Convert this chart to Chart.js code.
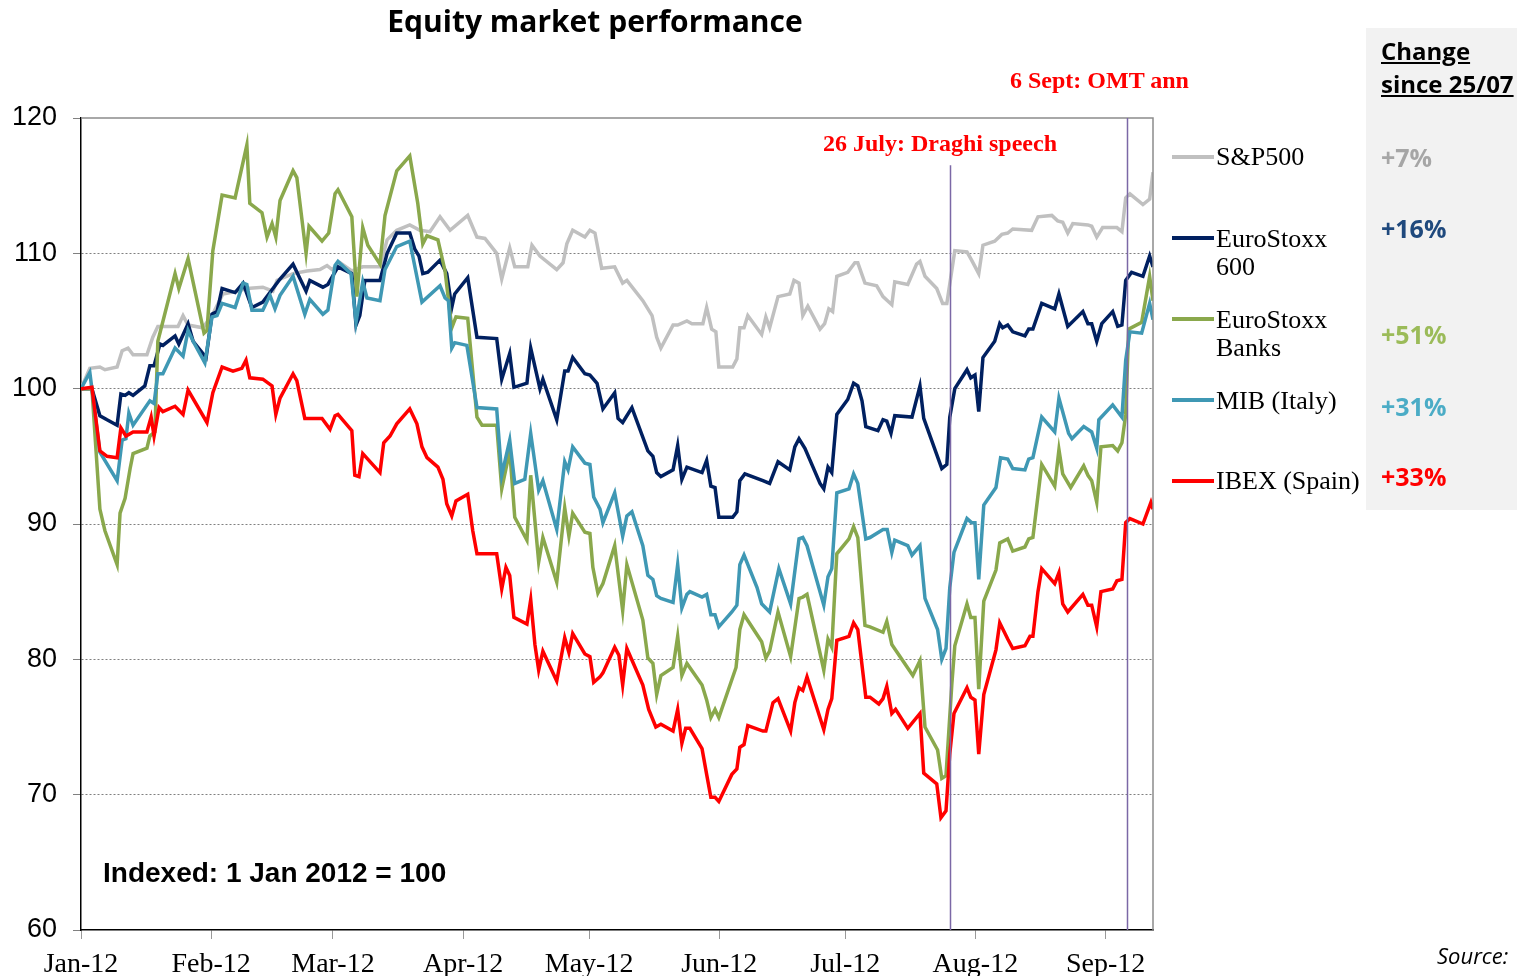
<!DOCTYPE html>
<html>
<head>
<meta charset="utf-8">
<script src="https://cdn.jsdelivr.net/npm/chart.js@4.4.0/dist/chart.umd.min.js"></script>
<style>
  body { margin: 0; background: #fff; overflow: hidden; }
  #wrap { position: relative; width: 1517px; height: 976px; overflow: hidden; }
  #chart { position: absolute; left: 0; top: 0; }
  .t { position: absolute; white-space: nowrap; line-height: 1; }
  .serif { font-family: "Liberation Serif", "Times New Roman", serif; }
  .sans { font-family: "Open Sans", sans-serif; font-weight: bold; }
  .sw { position: absolute; left: 1172px; width: 42px; height: 4px; }
  #box { position: absolute; left: 1366px; top: 28px; width: 151px; height: 482px; background: #f2f2f2; }
</style>
</head>
<body>
<div id="wrap">
  <div id="box"></div>
  <canvas id="chart" width="1517" height="976"></canvas>

  <div class="t sans" style="left:595px;top:6px;font-size:30px;transform:translateX(-50%);">Equity market performance</div>

  <div class="t serif" style="left:1010px;top:68px;font-size:24px;font-weight:bold;color:#ff0000;">6 Sept: OMT ann</div>
  <div class="t serif" style="left:823px;top:131px;font-size:24px;font-weight:bold;color:#ff0000;">26 July: Draghi speech</div>

  <div class="sw" style="top:155px;background:#c0c0c0;"></div>
  <div class="t serif" style="left:1216px;top:144px;font-size:26px;">S&amp;P500</div>
  <div class="sw" style="top:236px;background:#002060;"></div>
  <div class="t serif" style="left:1216px;top:225px;font-size:26px;line-height:28px;">EuroStoxx<br>600</div>
  <div class="sw" style="top:317px;background:#8aa84c;"></div>
  <div class="t serif" style="left:1216px;top:306px;font-size:26px;line-height:28px;">EuroStoxx<br>Banks</div>
  <div class="sw" style="top:398px;background:#3f98b4;"></div>
  <div class="t serif" style="left:1216px;top:388px;font-size:26px;">MIB (Italy)</div>
  <div class="sw" style="top:479px;background:#ff0000;"></div>
  <div class="t serif" style="left:1216px;top:468px;font-size:26px;">IBEX (Spain)</div>

  <div class="t sans" style="left:1381px;top:39px;font-size:24px;text-decoration:underline;">Change</div>
  <div class="t sans" style="left:1381px;top:72px;font-size:24px;text-decoration:underline;">since 25/07</div>
  <div class="t sans" style="left:1381px;top:145px;font-size:25px;color:#a6a6a6;">+7%</div>
  <div class="t sans" style="left:1381px;top:216px;font-size:25px;color:#1f497d;">+16%</div>
  <div class="t sans" style="left:1381px;top:322px;font-size:25px;color:#9bbb59;">+51%</div>
  <div class="t sans" style="left:1381px;top:394px;font-size:25px;color:#4bacc6;">+31%</div>
  <div class="t sans" style="left:1381px;top:464px;font-size:25px;color:#ff0000;">+33%</div>

  <div class="t" style="left:103px;top:859px;font-size:28px;font-family:'Liberation Sans',Arial,sans-serif;font-weight:bold;">Indexed: 1 Jan 2012 = 100</div>
  <div class="t" style="left:1437px;top:944px;font-size:22px;font-family:'Open Sans',sans-serif;font-style:italic;">Source:</div>
</div>

<script>
// x values are days since 1 Jan 2012
var monthStarts = [0, 31, 60, 91, 121, 152, 182, 213, 244];
var monthLabels = ['Jan-12', 'Feb-12', 'Mar-12', 'Apr-12', 'May-12', 'Jun-12', 'Jul-12', 'Aug-12', 'Sep-12'];
var eventDays = [207, 249]; // 26 July Draghi speech, 6 Sept OMT

var spxDays = [0,2.1,4.5,5.7,8.6,9.8,11.2,12.4,15.7,17.1,
  18.3,23.1,24.3,25.5,29,31.2,33.8,37.1,39.5,43.3,
  45.7,46.7,50.5,53.8,56.9,58.6,59.8,61.7,64.5,67.1,
  71.2,72.9,75.2,78.3,80.7,83.1,85.5,87.9,92.1,94.3,
  96.2,99,100.2,102.1,103.3,106.4,107.4,109.3,113.3,114.8,
  115.7,117.1,120,121.2,122.4,124,127.1,129,130,133.8,
  136,137.1,138.1,141,142.1,144.3,145.5,148.1,149,150.2,
  151.2,151.9,155.2,156.2,156.9,157.9,158.8,162.1,163.1,164,
  166,168.8,169.8,171,171.9,173.1,176,177.1,178.1,179,
  180,182.6,184.3,185,186.7,189.5,191,193.1,193.8,196.9,
  199,199.8,201,203.8,205.2,206.2,208.1,211,212.1,213.8,
  214.8,217.6,219.3,220.7,221.9,226.4,227.9,231.2,232.6,233.8,
  235,236.2,239.8,240.7,241.9,243.3,246.7,247.9,248.8,249.8,
  252.9,254.5,255.3];
var spxVals = [100,101.5,101.6,101.4,101.6,102.8,103,102.5,102.5,103.8,
  104.6,104.6,105.4,104.7,104.5,105.4,107,107.2,107.4,107.5,
  107.2,108,108.5,108.7,108.8,109.1,108.8,109.3,108.7,109,
  109,111,111.7,112.1,111.7,111.6,112.7,111.7,112.8,111.2,
  111.1,110,108.1,110.4,109,109,110.6,109.8,108.8,109.3,
  110.7,111.7,111.2,111.7,111.5,108.9,109,107.8,108,106.5,
  105.4,103.8,103,104.7,104.7,105,104.8,104.8,106,104.4,
  104.2,101.6,101.6,102.2,104.5,104.5,105.4,104,105.3,104.5,
  106.8,107,108,107.8,105.4,106.1,104.4,104.8,105.9,105.7,
  108.3,108.6,109.3,109.3,107.8,107.6,106.8,106.2,107.9,107.7,
  109.2,109.4,108.3,107.4,106.3,106.3,110.2,110.1,109.5,108.5,
  110.6,110.9,111.4,111.5,111.8,111.7,112.7,112.8,112.4,112.3,
  111.5,112.2,112.1,112,111.2,111.9,111.9,111.6,114.1,114.4,
  113.6,114,116];

var sx600Days = [0,2.6,4.5,6.2,8.6,9.5,10.5,11.4,12.4,15.2,
  16.4,17.4,18.8,19.5,22.4,23.3,25.5,26.7,29.8,31.2,
  32.4,33.6,36.7,38.6,40.7,43.3,47.4,50.5,53.6,54.5,
  57.6,58.8,61.2,64.5,65.5,66.4,67.6,71.2,72.9,75.2,
  78.3,79.5,80.5,81.4,82.6,85.5,87.1,88.3,89,92.1,
  94.3,99,100.2,102.1,103.1,106.2,107.1,109.3,110,113.3,
  115.2,116,117.1,120,121.2,122.9,124.3,127.1,127.9,129,
  131.2,135,136.2,137.1,138.1,141,142.1,143.1,144.3,147.9,
  149,150,151,151.9,155.2,156.2,156.9,158.1,162.4,164,
  166,168.8,170,171,172.4,176,176.9,177.9,178.8,180,
  182.6,184,185,186,186.9,189.8,191,191.9,192.9,193.8,
  197.9,199.8,200.7,205,206.2,206.9,208.1,211,211.9,212.9,
  213.8,214.8,217.6,218.8,219.5,220.7,221.9,224.8,225.7,226.7,
  228.8,231.9,232.9,235,238.6,239.8,240.7,241.9,243.1,245.7,
  246.9,247.9,248.8,250.2,252.9,254.5,255.3];
var sx600Vals = [100,100,98,97.7,97.3,99.6,99.5,99.7,99.5,100.2,
  101.7,101.7,103.3,103.2,103.9,103.3,104.8,103.5,102.3,105.5,
  105.7,107.4,107.1,107.8,106,106.4,108.1,109.2,107.2,108,
  107.5,107.7,109,108.5,104.7,105.4,108,108,110,111.5,
  111.5,110.3,109.8,108.5,108.6,109.5,108.5,106,107,108.2,
  103.8,103.7,100.7,102.6,100.1,100.4,103,100,100.7,97.7,
  101.3,101.3,102.3,101.1,101,100.4,98.5,99.7,97.8,97.5,
  98.6,95.4,95,93.8,93.5,94,95.8,93.3,94.2,93.8,
  94.7,92.8,92.7,90.5,90.5,90.9,93.2,93.7,93.2,93,
  94.6,94,95.7,96.3,95.6,93,92.6,94.2,93.8,98.1,
  99.2,100.4,100.2,99.1,97.2,96.9,97.7,97.6,96.7,98,
  97.9,100.2,97.8,94.1,94.4,97.9,100,101.4,100.8,101,
  98.3,102.3,103.5,104.8,104.5,104.7,104.2,103.9,104.4,104.4,
  106.3,105.9,107,104.6,105.7,104.8,104.8,103.5,104.8,105.7,
  104.6,104.7,108,108.6,108.3,109.8,109];

var banksDays = [0,2.6,4.5,5.7,8.6,9.3,10.5,11.7,12.4,15.7,
  16.4,17.6,18.3,22.4,23.3,25.5,29.3,30,31.4,33.6,
  36.7,39.5,40.2,43.1,44.3,45.5,46.4,47.4,50.5,51.4,
  53.6,54.3,57.4,59,60.5,61.2,64.5,65.7,67.1,68.3,
  71.2,72.4,75.2,78.3,80.2,81.4,82.4,85,86.7,88.3,
  89.3,92.1,94.3,95.5,99,100.2,102.1,103.3,106.2,107.1,
  109,110,113.3,115.2,116.2,117.1,120,121.2,121.9,123.1,
  124.3,127.1,129,130,133.8,135,136.2,137.1,138.1,141,
  142.1,143.1,144.3,147.9,149,150,151,151.9,156,156.9,
  157.9,162.1,163.1,164,166,169,171,171.9,172.9,176.9,
  177.9,178.8,180,182.9,184,185,186.7,187.9,191,191.9,
  193.1,198.1,199.8,201,204,205,206,207.4,208.1,211,
  211.9,212.9,213.8,215,217.9,218.8,220.7,221.9,224.8,225.7,
  226.7,228.8,231.9,232.9,233.8,235.7,238.8,239.8,240.7,241.9,
  242.9,245.7,246.9,247.9,248.8,249.5,252.6,254.5,255.3];
var banksVals = [100,100,91.1,89.5,87,90.8,91.9,94.1,95.2,95.6,
  96.5,96.8,103.5,108.5,107.4,109.6,104.1,104.3,110.2,114.3,
  114.1,118,113.7,113,111.2,112.2,111.2,113.9,116.1,115.6,
  110,112,110.9,111.5,114.4,114.7,112.7,106.8,111.9,110.6,
  109.2,112.8,116.1,117.2,113.7,110.7,111.3,111,108.7,104.5,
  105.3,105.2,97.9,97.3,97.3,92.6,95.4,90.5,88.8,93.6,
  87.2,89,85.7,91.2,89.1,90.8,89.4,89.3,86.8,84.9,
  85.6,88.4,83.6,87,82.9,80.1,79.7,77.4,78.8,79.4,
  81.7,78.8,79.7,78.1,77,75.7,76.3,75.7,79.4,82.2,
  83.3,81.3,80.1,80.6,83.5,80.2,84.5,84.6,84.8,79.2,
  81.5,80.9,87.8,88.9,89.8,89,82.5,82.4,82,82.8,
  81.1,78.8,79.9,75,73.3,71.2,71.4,78.2,81,84.1,
  83.1,83.1,77.8,84.3,86.6,88.6,88.9,88,88.3,88.9,
  89,94.4,92.8,95.5,93.7,92.7,94.3,93.6,93.2,91.6,
  95.7,95.8,95.4,96,98.1,104.4,104.9,108.3,106.5];

var mibDays = [0,2.1,4.5,8.6,9.8,10.7,11.4,12.4,16.4,17.4,
  18.3,19.5,22.4,24.3,25.5,26.7,29.5,31.2,32.4,33.6,
  36.7,38.6,39.5,40.7,43.3,45,46.2,47.4,50.5,53.3,
  54.5,57.6,58.8,60.5,61.2,64.3,65.5,67.1,68.1,71.2,
  72.4,75.2,78.3,81.2,85.5,86.7,87.5,88.3,89,91.9,
  94.3,99,100.2,102.1,103.3,105.7,107.1,109,110,113.3,
  115.2,116,117.1,120,121.2,122.1,123.6,124.3,127.1,129,
  130,131.2,133.8,135,136.2,137.1,138.1,141,142.1,143.1,
  144.3,145,147.9,149,150,151,151.9,155,156.2,156.9,
  157.9,161,162.1,164,166.2,169,171,171.9,172.9,176.9,
  177.9,178.8,180,182.9,184,185,186.9,187.9,191,192,
  193.1,193.8,196.9,197.9,199.8,201,204,205,206,206.9,
  207.9,211,212.1,212.9,213.8,215,217.9,219,220.7,221.9,
  224.8,225.7,226.7,228.8,231.9,232.9,235.2,236,238.8,240.7,
  241.9,242.4,245.7,247.9,248.8,249.8,252.6,254.5,255.3];
var mibVals = [100,101.2,95.3,93.2,96.2,96.3,98.2,97.3,99.1,98.9,
  101.1,101.1,103,102.4,104.3,103.5,101.9,105.3,105.4,106.3,
  106,107.8,107.7,105.8,105.8,106.9,105.9,106.9,108.3,105.5,
  106.6,105.5,105.8,109.1,109.4,108.5,104.9,107.9,106.7,106.5,
  108.8,110.5,110.9,106.4,107.6,106.7,106.5,103,103.4,103.2,
  98.6,98.5,93.6,96.2,93,93.3,96.7,92.5,93.2,89.6,
  94.6,94,95.7,94.5,94.4,92,91.1,90.1,92.3,89.1,
  90.6,90.9,88.4,86.2,85.9,84.7,84.5,84.2,87,83.8,
  84.8,85,84.6,84.8,83.3,83.3,82.4,83.5,84,87,
  87.7,85.3,84.1,83.5,86.7,84.1,88.9,89,88.4,84,
  86.1,86.7,92.3,92.6,93.7,93,88.9,89,89.6,89.6,
  87.9,88.8,88.4,87.7,88.4,84.5,82.2,80,80.8,85.3,
  87.9,90.4,90.1,90.1,85.9,91.4,92.7,94.9,94.8,94.1,
  94,94.8,94.9,97.9,96.8,99.3,96.7,96.3,97.2,96.8,
  95.6,97.7,98.8,97.9,102.1,104.2,104.1,106.3,105.1];

var ibexDays = [0,2.6,4.5,6.2,8.6,9.5,10.7,12.4,15.7,16.7,
  17.4,18.6,19.5,22.4,24.3,25.5,30,31.4,33.6,36.2,
  38.3,39.3,40.2,43.3,45.5,46.4,47.4,50.5,51.4,53.3,
  57.4,59.3,60.5,61.2,64.5,65.2,66.2,67.1,71.2,72.1,
  73.6,75.2,78.3,80,81.2,82.4,85,86.2,87.1,88.3,
  89.3,92.1,93.3,94.3,99,100.2,101.2,102.1,103.1,106.2,
  107.1,108.1,109,110,113.3,115.2,116.2,117.1,120,121.2,
  122.1,123.6,124.3,127.1,128.1,129,130,133.8,135.2,136.9,
  138.1,141,142.1,143.1,144,145,147.9,149,150,151,
  151.9,155,156.2,156.9,157.9,158.8,162.4,163.1,164.8,166,
  169,170,171,171.9,172.9,176.9,177.9,178.8,180,182.9,
  184,185,186.9,187.9,190,191,191.9,193.1,194,196.9,
  199.8,200.7,203.8,204.8,206,206.9,207.9,211,211.9,212.9,
  213.8,215,217.9,218.8,220.7,221.9,224.8,226,226.7,227.9,
  228.8,231.9,232.9,233.8,235,238.6,239.8,240.7,241.9,242.9,
  245.7,246.7,247.9,248.8,249.8,252.9,254.8,255.3];
var ibexVals = [100,100.1,95.4,95,94.9,97.1,96.5,96.8,96.8,97.9,
  96.5,98.6,98.3,98.7,98.1,99.9,97.5,99.7,101.6,101.3,
  101.5,102.1,100.8,100.7,100.2,98.1,99.3,101.1,100.6,97.8,
  97.8,97,98,98.1,96.9,93.6,93.5,95.2,93.8,96,
  96.5,97.4,98.5,97.4,95.7,94.9,94.2,93.3,91.5,90.6,
  91.7,92.2,89.5,87.8,87.8,85.2,86.8,86.2,83.1,82.6,
  84.4,81.1,79.2,80.6,78.4,81.6,80.5,81.9,80.4,80.2,
  78.3,78.7,79,80.9,80.3,78.1,80.8,78.1,76.3,75,
  75.2,74.7,76.3,73.8,74.9,74.9,73.4,71.5,69.8,69.8,
  69.5,71.5,71.9,73.5,73.7,75.1,74.7,74.7,76.8,77.1,
  74.7,76.8,77.9,77.7,78.7,74.8,76.3,77.1,81.4,81.7,
  82.7,82.2,77.2,77.2,76.7,77.1,78,76,76.3,74.9,
  76,71.6,70.8,68.3,68.8,73,76,77.9,77.2,77,
  73,77.4,80.7,82.7,81.5,80.8,81,81.7,81.7,85,
  86.7,85.6,86.4,84.1,83.5,84.8,84,84,82.4,85,
  85.2,85.8,85.9,90.1,90.4,90,91.6,91.1];

function pts(days, vals) {
    return days.map(function (d, i) { return { x: d, y: vals[i] }; });
}

function series(label, days, vals, color, order) {
    return {
        label: label,
        data: pts(days, vals),
        borderColor: color,
        backgroundColor: color,
        borderWidth: 3.5,
        pointRadius: 0,
        tension: 0,
        order: order
    };
}

// frame on top/right plus the two event lines
var frameAndEvents = {
    id: 'frameAndEvents',
    afterDatasetsDraw: function (chart) {
        var ctx = chart.ctx, a = chart.chartArea;
        var x = chart.scales.x, y = chart.scales.y;
        ctx.save();
        ctx.strokeStyle = '#8c8c8c';
        ctx.lineWidth = 1.5;
        ctx.beginPath();
        ctx.moveTo(a.left, a.top);
        ctx.lineTo(a.right, a.top);
        ctx.lineTo(a.right, a.bottom);
        ctx.stroke();

        ctx.strokeStyle = '#7b68a6';
        ctx.lineWidth = 1.5;
        var tops = [y.getPixelForValue(116.5), a.top];
        eventDays.forEach(function (d, i) {
            var px = Math.round(x.getPixelForValue(d)) + 0.5;
            ctx.beginPath();
            ctx.moveTo(px, tops[i]);
            ctx.lineTo(px, a.bottom);
            ctx.stroke();
        });
        ctx.restore();
    }
};

var ctx = document.getElementById('chart').getContext('2d');
var chart = new Chart(ctx, {
    type: 'line',
    data: {
        datasets: [
            series('S&P500', spxDays, spxVals, '#c0c0c0', 5),
            series('EuroStoxx 600', sx600Days, sx600Vals, '#002060', 4),
            series('EuroStoxx Banks', banksDays, banksVals, '#8aa84c', 3),
            series('MIB (Italy)', mibDays, mibVals, '#3f98b4', 2),
            series('IBEX (Spain)', ibexDays, ibexVals, '#ff0000', 1)
        ]
    },
    options: {
        responsive: false,
        animation: false,
        devicePixelRatio: 1,
        layout: { padding: { top: 118, right: 364, bottom: 0, left: 0 } },
        plugins: { legend: { display: false }, tooltip: { enabled: false } },
        scales: {
            x: {
                type: 'linear',
                min: 0,
                max: 255.3,
                afterBuildTicks: function (axis) {
                    axis.ticks = monthStarts.map(function (v) { return { value: v }; });
                },
                afterFit: function (s) { s.height = 46; },
                ticks: {
                    autoSkip: false,
                    maxRotation: 0,
                    padding: 9,
                    color: '#000',
                    font: { family: 'Liberation Serif', size: 28 },
                    callback: function (v, i) { return monthLabels[i]; }
                },
                grid: { drawOnChartArea: false, drawTicks: true, tickLength: 9, color: '#999', tickColor: '#999' },
                border: { color: '#000', width: 1.5 }
            },
            y: {
                min: 60,
                max: 120,
                afterFit: function (s) { s.width = 81; },
                ticks: {
                    stepSize: 10,
                    padding: 16,
                    color: '#000',
                    font: { family: 'Liberation Sans', size: 27 }
                },
                grid: {
                    color: function (c) {
                        var v = c.tick ? c.tick.value : 0;
                        return (v > 60 && v < 120) ? '#808080' : 'rgba(0,0,0,0)';
                    },
                    lineWidth: 1,
                    tickLength: 8,
                    tickColor: '#808080',
                    tickBorderDash: []
                },
                border: { color: '#000', width: 1.5, dash: [2, 2] }
            }
        }
    },
    plugins: [frameAndEvents]
});
</script>
</body>
</html>
